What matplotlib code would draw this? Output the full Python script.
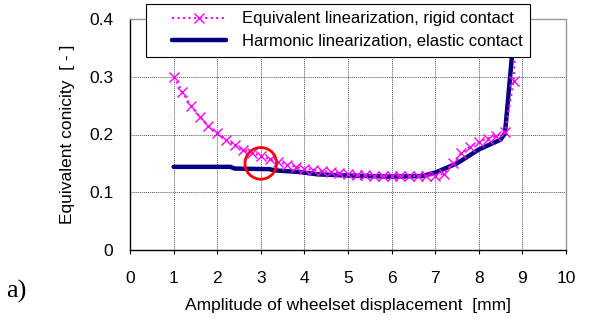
import matplotlib
matplotlib.use("Agg")
import matplotlib.pyplot as plt
from matplotlib.lines import Line2D
from matplotlib.legend_handler import HandlerLine2D

# equivalent linearization, rigid contact (markers)
amp_rigid = [1.0, 1.2, 1.4, 1.6, 1.8, 2.0, 2.2, 2.4, 2.6, 2.8,
             3.0, 3.2, 3.4, 3.6, 3.8, 4.0, 4.2, 4.4, 4.6, 4.8,
             5.0, 5.2, 5.4, 5.6, 5.8, 6.0, 6.2, 6.4, 6.6, 6.8,
             7.0, 7.2, 7.4, 7.6, 7.8, 8.0, 8.2, 8.4, 8.6, 8.8, 8.9]
con_rigid = [0.300, 0.274, 0.249, 0.231, 0.215, 0.203, 0.191, 0.182, 0.174, 0.168,
             0.163, 0.157, 0.152, 0.148, 0.144, 0.141, 0.139, 0.137, 0.135, 0.133,
             0.131, 0.130, 0.130, 0.129, 0.128, 0.128, 0.128, 0.128, 0.128, 0.129,
             0.129, 0.132, 0.150, 0.168, 0.179, 0.187, 0.193, 0.198, 0.204, 0.293, 0.45]

# harmonic linearization, elastic contact (line)
amp_elastic = [1.0, 2.3, 2.4, 3.2, 3.3, 3.9, 4.3, 5.0, 6.0, 6.7,
               7.0, 7.5, 8.0, 8.5, 8.6, 8.76, 8.85]
con_elastic = [0.144, 0.144, 0.141, 0.140, 0.138, 0.135, 0.131, 0.129, 0.127, 0.128,
               0.134, 0.150, 0.174, 0.191, 0.202, 0.335, 0.45]

# highlighted point (red circle)
hl_x, hl_y = 3.0, 0.150

xticks = list(range(0, 11))
yticks = [0, 0.1, 0.2, 0.3, 0.4]

plt.rcParams['font.family'] = ['Liberation Sans', 'DejaVu Sans']
fs = 12.5

fig = plt.figure(figsize=(5.92, 3.2), dpi=100)
ax = fig.add_axes([130 / 592, 1 - 250 / 320, (566 - 130) / 592, (250 - 19) / 320])

ax.plot(amp_rigid, con_rigid, color='#ff00ff', linestyle=':', linewidth=1.5,
        marker='x', markersize=7.5, markeredgewidth=1.0,
        label='Equivalent linearization, rigid contact', zorder=4)
ax.plot(amp_elastic, con_elastic, color='#000080', linewidth=3.2,
        label='Harmonic linearization, elastic contact', zorder=3,
        solid_capstyle='round')
ax.scatter([hl_x], [hl_y], s=520, facecolors='none', edgecolors='#ff0000',
           linewidths=2.0, zorder=5)

ax.set_xlim(0, 10)
ax.set_ylim(0, 0.4)
ax.set_xticks(xticks)
ax.set_yticks(yticks)
ax.set_yticklabels(['0', '0.1', '0.2', '0.3', '0.4'])
ax.tick_params(axis='x', direction='out', length=3, width=0.8, labelsize=fs, pad=12)
ax.tick_params(axis='y', length=0, labelsize=fs, pad=12)
ax.grid(True, color='#555555', linestyle=(0, (1, 1)), linewidth=0.7)
ax.set_axisbelow(True)

for s in ['top', 'right']:
    ax.spines[s].set_color('#999999')
    ax.spines[s].set_linewidth(1.0)
for s in ['left', 'bottom']:
    ax.spines[s].set_color('black')
    ax.spines[s].set_linewidth(1.0)

ax.set_xlabel('Amplitude of wheelset displacement  [mm]', fontsize=fs, labelpad=9)
ax.set_ylabel('Equivalent conicity  [ - ]', fontsize=fs, labelpad=10)

leg = fig.legend(loc='upper left', bbox_to_anchor=(146 / 592, 1 - 4 / 320),
                 fontsize=12, frameon=True, fancybox=False, handlelength=4.35,
                 borderpad=0.45, labelspacing=0.45, handletextpad=0.95,
                 borderaxespad=0,
                 handler_map={Line2D: HandlerLine2D(xpad=1.1)})
leg.get_frame().set_edgecolor('black')
leg.get_frame().set_linewidth(0.8)
leg.get_frame().set_alpha(1.0)

fig.text(6 / 592, 1 - 291 / 320, 'a)', fontsize=19, family='Liberation Serif',
         va='center', ha='left')

fig.savefig('out.png', dpi=100)
